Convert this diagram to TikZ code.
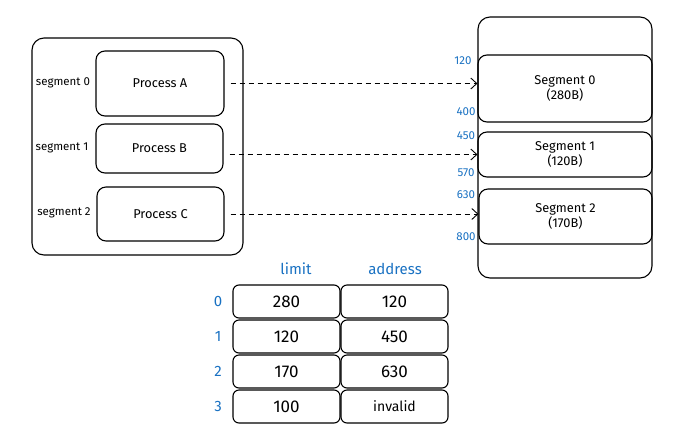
\documentclass[tikz,border=0pt]{standalone}
\usepackage{fontspec}
\setmainfont{Fira Sans}
\usetikzlibrary{arrows.meta,positioning}
\definecolor{addrblue}{HTML}{1971C2}

\begin{document}
\begin{tikzpicture}[
			x=1pt, y=-1pt,
			cornice/.style={draw=black, line width=1.1pt, rounded corners=12pt, inner sep=0pt},
			blocco/.style={draw=black, line width=1.1pt, rounded corners=9pt, inner sep=0pt, font=\fontsize{12.8}{13.5}\selectfont},
			cella/.style={draw=black, line width=1.1pt, rounded corners=6pt, inner sep=0pt, minimum width=107pt, minimum height=33pt, font=\fontsize{17}{19}\selectfont},
			etich/.style={font=\fontsize{11.5}{13}\selectfont},
			indir/.style={font=\fontsize{11.5}{13}\selectfont, text=addrblue},
			testa/.style={font=\fontsize{15}{17}\selectfont, text=addrblue},
			freccia/.style={line width=0.9pt, dash pattern=on 5pt off 4pt, -{Straight Barb[length=6pt,width=11pt]}},
			]
			
			\useasboundingbox (0,0) rectangle (680,440);
			
			\def\cx{286.5}
			\def\dx{108}
			\def\ry{301.5}
			\def\dy{35}
			
			%% ── processi ───────────────────────────────────────────
			\node[cornice, minimum width=211pt, minimum height=217pt] (proc) at (137.5,146.5) {};
			\node[blocco, minimum width=128pt, minimum height=65pt] (pA) at (160,83.5) {Process A};
			\node[blocco, minimum width=127pt, minimum height=49pt] (pB) at (159.5,148.5) {Process B};
			\node[blocco, minimum width=127pt, minimum height=54pt] (pC) at (160.5,214) {Process C};
			\node[etich] (lA) at (63,83) {segment 0};
			\node[etich] (lB) at (62,148) {segment 1};
			\node[etich] (lC) at (64,213) {segment 2};
			
			%% ── memoria ────────────────────────────────────────────
			\node[cornice, minimum width=174pt, minimum height=261pt] (mem) at (565,147.5) {};
			\node[blocco, minimum width=174pt, minimum height=67pt, align=center] (s0) at (565,88.5) {Segment 0\\(280B)};
			\node[blocco, minimum width=174pt, minimum height=45pt, align=center] (s1) at (565,154.5) {Segment 1\\(120B)};
			\node[blocco, minimum width=173pt, minimum height=55pt, align=center] (s2) at (565.5,216.5) {Segment 2\\(170B)};
			\node[indir] (a0) at (463,61) {120};
			\node[indir] (a1) at (466,112) {400};
			\node[indir] (a2) at (466,136) {450};
			\node[indir] (a3) at (466,173) {570};
			\node[indir] (a4) at (466,195) {630};
			\node[indir] (a5) at (466,237) {800};
			
			%% ── frecce ─────────────────────────────────────────────
			\draw[freccia]([xshift=6pt]pA.east)--(pA.east -| s0.west);
			\draw[freccia]([xshift=6pt]pB.east |- s1.west)--(s1.west);
			\draw[freccia]([xshift=6pt]pC.east)--(pC.east -| s2.west);
			
			%% ── tabella ────────────────────────────────────────────
			\node[testa] (hL) at (296,269) {limit};
			\node[testa] (hA) at (395,269) {address};
			\foreach \i/\lim/\adr in {0/280/120,1/120/450,2/170/630,3/100/invalid}{
				\node[cella] (lim\i) at (\cx,\ry+\i*\dy) {\lim};
				\node[cella] (adr\i) at (\cx+\dx,\ry+\i*\dy) {\ifnum\i=3\fontsize{14}{16}\selectfont\fi\adr};
				\node[testa] (idx\i) at (218,\ry+\i*\dy) {\i};
			}
			
	\end{tikzpicture}
\end{document}
